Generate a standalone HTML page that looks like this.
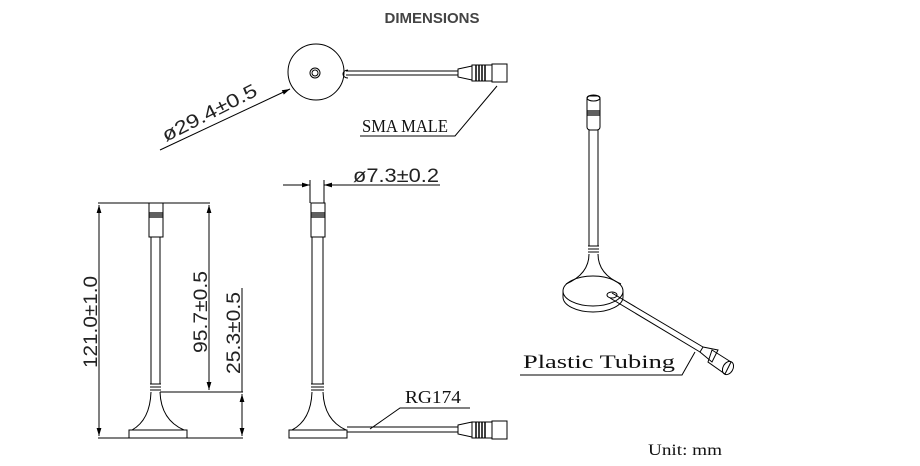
<!DOCTYPE html>
<html><head><style>
html,body{margin:0;padding:0;background:#fff;width:920px;height:466px;overflow:hidden}
svg{display:block}
.s{fill:none;stroke:#000;stroke-width:1}
.t{font-family:"Liberation Sans",sans-serif;fill:#222}
.f{font-family:"Liberation Serif",serif;fill:#111}
</style></head><body>
<svg width="920" height="466" viewBox="0 0 920 466">
<defs>
<marker id="a" viewBox="0 0 10 10" refX="10" refY="5" markerWidth="8" markerHeight="8" orient="auto-start-reverse"><path d="M0,2 L10,5 L0,8 z" fill="#000"/></marker>
</defs>
<text x="432" y="23" text-anchor="middle" font-family="Liberation Sans,sans-serif" font-weight="bold" font-size="15" fill="#444">DIMENSIONS</text>

<!-- top view -->
<circle cx="316" cy="72" r="28" class="s"/>
<circle cx="315" cy="73" r="5" class="s"/><circle cx="315" cy="73" r="3" class="s"/>
<path d="M348,70 A5,4 0 0 0 348,78" class="s"/>
<line x1="346" y1="71" x2="458" y2="71" class="s"/><line x1="346" y1="75" x2="458" y2="75" class="s"/>
<path d="M458,69 L472,66 L472,80 L458,77 Z" class="s"/>
<rect x="472" y="65" width="20" height="16" class="s"/>
<path d="M476,65v16M479,65v16M482,65v16M485,65v16" stroke="#000" stroke-width="1.5"/>
<rect x="492" y="64" width="15" height="18" class="s"/>
<polyline points="497,86 455,136 360,136" class="s"/>
<text x="362" y="132" class="f" font-size="18" textLength="86" lengthAdjust="spacingAndGlyphs">SMA MALE</text>
<line x1="160" y1="150" x2="290" y2="89" class="s" marker-end="url(#a)"/>
<text class="t" font-size="19" transform="translate(166,142) rotate(-27)" textLength="104" lengthAdjust="spacingAndGlyphs">ø29.4±0.5</text>

<!-- left view -->
<rect x="149" y="203" width="14" height="34" class="s"/>
<path d="M149,213h14M149,215h14M149,217h14" stroke="#000" stroke-width="1.2"/>
<line x1="151" y1="237" x2="151" y2="384" class="s"/><line x1="160" y1="237" x2="160" y2="384" class="s"/>
<path d="M150,384h11M150,387h11M150,390h11" class="s"/>
<path d="M151,392 Q150,420 132,430 M160,392 Q161,420 184,430" class="s"/>
<rect x="129" y="430" width="58" height="8" class="s"/>
<line x1="98" y1="203" x2="210" y2="203" class="s"/>
<line x1="98" y1="438" x2="243" y2="438" class="s"/>
<line x1="99" y1="205" x2="99" y2="436" class="s" marker-start="url(#a)" marker-end="url(#a)"/>
<line x1="209" y1="205" x2="209" y2="390" class="s" marker-start="url(#a)" marker-end="url(#a)"/>
<line x1="160" y1="392" x2="243" y2="392" class="s"/>
<line x1="242" y1="394" x2="242" y2="436" class="s" marker-start="url(#a)" marker-end="url(#a)"/>
<line x1="242" y1="288" x2="242" y2="392" class="s"/>
<text class="t" font-size="19" text-anchor="middle" transform="translate(97,322) rotate(-90)" textLength="92" lengthAdjust="spacingAndGlyphs">121.0±1.0</text>
<text class="t" font-size="19" text-anchor="middle" transform="translate(207,312) rotate(-90)" textLength="82" lengthAdjust="spacingAndGlyphs">95.7±0.5</text>
<text class="t" font-size="19" text-anchor="middle" transform="translate(240,333) rotate(-90)" textLength="82" lengthAdjust="spacingAndGlyphs">25.3±0.5</text>

<!-- middle view -->
<rect x="311" y="203" width="14" height="34" class="s"/>
<path d="M311,213h14M311,215h14M311,217h14" stroke="#000" stroke-width="1.2"/>
<line x1="312" y1="237" x2="312" y2="384" class="s"/><line x1="323" y1="237" x2="323" y2="384" class="s"/>
<path d="M311,384h13M311,387h13M311,390h13" class="s"/>
<path d="M312,392 Q311,420 292,430 M323,392 Q324,420 346,430" class="s"/>
<rect x="289" y="430" width="58" height="8" class="s"/>
<line x1="310" y1="180" x2="310" y2="203" class="s"/><line x1="324" y1="180" x2="324" y2="203" class="s"/>
<line x1="283" y1="185" x2="310" y2="185" class="s" marker-end="url(#a)"/>
<line x1="440" y1="185" x2="324" y2="185" class="s" marker-end="url(#a)"/>
<text x="353" y="182" class="t" font-size="19" textLength="86" lengthAdjust="spacingAndGlyphs">ø7.3±0.2</text>
<line x1="347" y1="427" x2="458" y2="427" class="s"/><line x1="347" y1="432" x2="458" y2="432" class="s"/>
<path d="M458,425 L472,422 L472,437 L458,434 Z" class="s"/>
<rect x="472" y="422" width="20" height="16" class="s"/>
<path d="M476,422v16M479,422v16M482,422v16M485,422v16" stroke="#000" stroke-width="1.5"/>
<rect x="492" y="421" width="15" height="18" class="s"/>
<polyline points="370,429 400,408 470,408" class="s"/>
<text x="405" y="403" class="f" font-size="18" textLength="56" lengthAdjust="spacingAndGlyphs">RG174</text>

<!-- 3D view -->
<rect x="587" y="96" width="13" height="34" rx="3" class="s"/>
<ellipse cx="593.5" cy="98" rx="6.5" ry="3" class="s"/>
<path d="M587,111h13M587,113h13M587,115h13" stroke="#000" stroke-width="1.2"/>
<line x1="589" y1="130" x2="589" y2="246" class="s"/><line x1="598" y1="130" x2="598" y2="246" class="s"/>
<path d="M588,246h11M588,249h11M588,252h11" class="s"/>
<path d="M589,254 Q589,274 566,284 M598,254 Q598,274 621,284" class="s"/>
<ellipse cx="593" cy="291" rx="30" ry="15" class="s"/>
<path d="M563,291 v6 A30,15 0 0 0 623,297 v-6" class="s"/>
<ellipse cx="612" cy="295" rx="5" ry="3" class="s"/>
<line x1="612" y1="293" x2="703" y2="347" class="s"/><line x1="610" y1="298" x2="700" y2="352" class="s"/>
<path d="M703,347 L718,350 L712,362 L700,352 Z" class="s"/>
<path d="M712,350 L731,362 L725,374 L708,362 Z" class="s"/>
<ellipse cx="728" cy="368" rx="5" ry="7" transform="rotate(30 728 368)" class="s"/>
<polyline points="695,352 682,375 520,375" class="s"/>
<text x="523" y="368" class="f" font-size="19" textLength="152" lengthAdjust="spacingAndGlyphs">Plastic Tubing</text>

<text x="648" y="455" class="f" font-size="16" textLength="74" lengthAdjust="spacingAndGlyphs">Unit: mm</text>
</svg>
</body></html>
